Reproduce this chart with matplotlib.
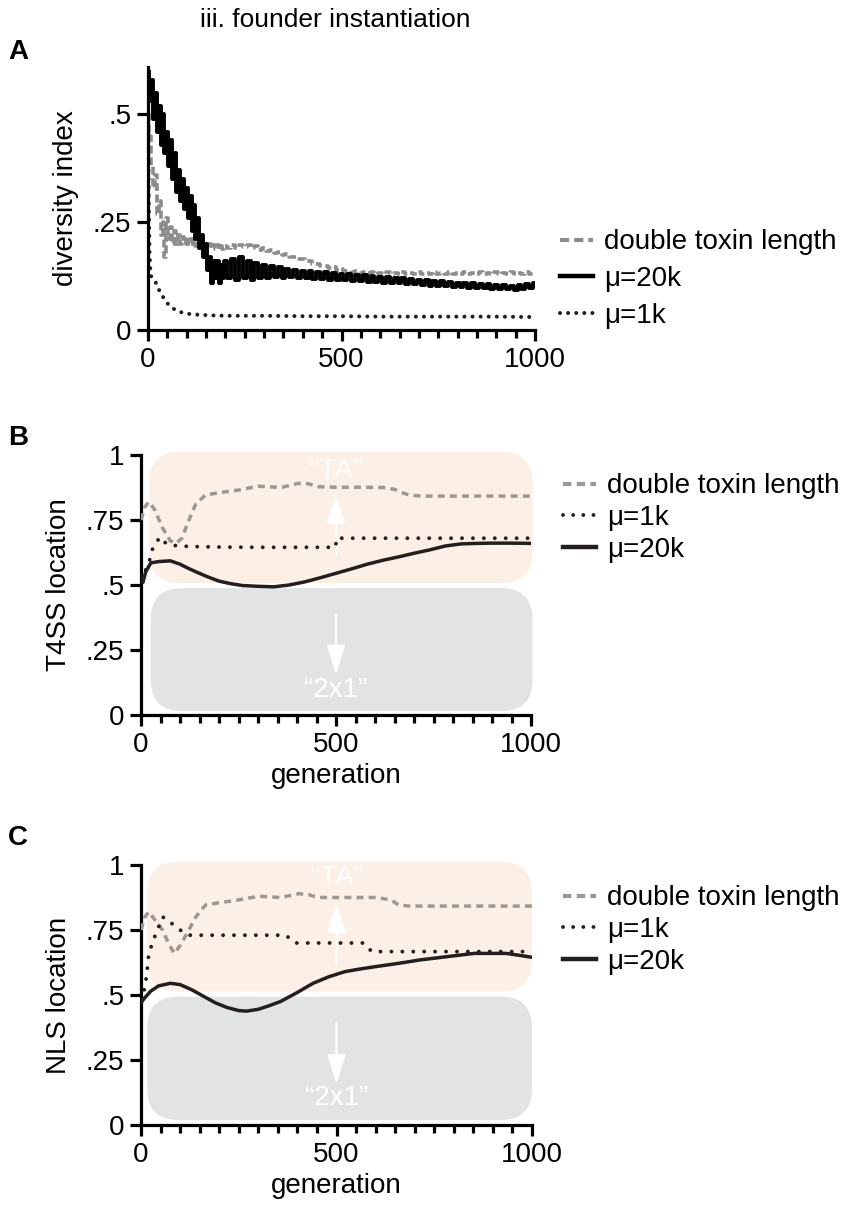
import matplotlib
matplotlib.use("Agg")
import matplotlib.pyplot as plt
import numpy as np
from matplotlib.lines import Line2D
from matplotlib.patches import FancyBboxPatch

plt.rcParams['font.family'] = ['Liberation Sans', 'DejaVu Sans']
plt.rcParams['font.size'] = 20

# ---- panel A: diversity index ----
a_gen_early = np.arange(0, 201, 5)
a_gen_late = np.arange(210, 1001, 10)
a_mu20k_early = [0.60, 0.53, 0.58, 0.49, 0.55, 0.46, 0.52, 0.43, 0.50, 0.41, 0.46,
                 0.38, 0.44, 0.35, 0.41, 0.32, 0.37, 0.30, 0.35, 0.28, 0.33, 0.26,
                 0.31, 0.23, 0.29, 0.21, 0.26, 0.19, 0.22, 0.17, 0.20, 0.14, 0.17,
                 0.11, 0.16, 0.12, 0.16, 0.11, 0.15, 0.12, 0.16]
a_mu20k_late = [0.12, 0.165, 0.115, 0.17, 0.12, 0.16, 0.115, 0.155, 0.12, 0.15,
                0.12, 0.148, 0.122, 0.145, 0.12, 0.142, 0.122, 0.14, 0.12, 0.138,
                0.12, 0.137, 0.118, 0.135, 0.118, 0.134, 0.117, 0.132, 0.116, 0.131,
                0.115, 0.13, 0.114, 0.128, 0.113, 0.127, 0.112, 0.126, 0.111, 0.124,
                0.11, 0.123, 0.109, 0.121, 0.108, 0.12, 0.107, 0.118, 0.106, 0.117,
                0.104, 0.115, 0.103, 0.114, 0.102, 0.113, 0.101, 0.111, 0.10, 0.11,
                0.099, 0.109, 0.098, 0.108, 0.097, 0.107, 0.097, 0.106, 0.096, 0.105,
                0.095, 0.104, 0.094, 0.103, 0.092, 0.104, 0.095, 0.106, 0.098, 0.108]
a_double_early = [0.50, 0.45, 0.38, 0.33, 0.36, 0.27, 0.30, 0.22, 0.25, 0.17, 0.26,
                  0.21, 0.24, 0.20, 0.23, 0.20, 0.22, 0.20, 0.215, 0.20, 0.215, 0.20,
                  0.21, 0.195, 0.21, 0.195, 0.205, 0.195, 0.205, 0.19, 0.20, 0.19,
                  0.20, 0.19, 0.198, 0.188, 0.196, 0.188, 0.195, 0.187, 0.195]
a_double_late = [0.19, 0.196, 0.19, 0.198, 0.192, 0.197, 0.19, 0.194, 0.186, 0.19,
                 0.183, 0.186, 0.179, 0.181, 0.174, 0.176, 0.169, 0.17, 0.164, 0.165,
                 0.159, 0.16, 0.153, 0.154, 0.148, 0.149, 0.144, 0.145, 0.14, 0.141,
                 0.137, 0.138, 0.135, 0.136, 0.133, 0.135, 0.132, 0.134, 0.131, 0.133,
                 0.130, 0.134, 0.131, 0.133, 0.130, 0.134, 0.131, 0.133, 0.130, 0.134,
                 0.131, 0.133, 0.130, 0.134, 0.131, 0.133, 0.130, 0.134, 0.131, 0.133,
                 0.130, 0.134, 0.131, 0.133, 0.130, 0.134, 0.131, 0.133, 0.130, 0.134,
                 0.131, 0.133, 0.130, 0.134, 0.131, 0.133, 0.130, 0.134, 0.131, 0.133]
a_mu1k_gen = [0, 2, 4, 6, 8, 10, 15, 20, 25, 30, 40, 50, 60, 70, 80, 90, 100, 120,
              140, 160, 200, 300, 400, 500, 600, 700, 800, 900, 1000]
a_mu1k = [0.50, 0.30, 0.18, 0.14, 0.125, 0.12, 0.115, 0.11, 0.10, 0.09, 0.075,
          0.062, 0.053, 0.047, 0.043, 0.04, 0.038, 0.036, 0.035, 0.034, 0.033,
          0.033, 0.032, 0.032, 0.031, 0.031, 0.031, 0.031, 0.030]

# ---- panel B: T4SS location ----
b_double_gen = [0, 10, 20, 35, 55, 75, 90, 105, 120, 140, 165, 200, 250, 300, 360,
                400, 420, 455, 500, 560, 620, 650, 670, 690, 720, 800, 900, 1000]
b_double = [0.75, 0.80, 0.82, 0.79, 0.72, 0.67, 0.66, 0.68, 0.74, 0.81, 0.846,
            0.855, 0.865, 0.88, 0.875, 0.89, 0.893, 0.878, 0.876, 0.876, 0.875,
            0.868, 0.855, 0.845, 0.842, 0.842, 0.842, 0.842]
b_mu1k_gen = [0, 10, 23, 31, 49, 66, 95, 130, 200, 300, 400, 499, 501, 600, 700,
              800, 900, 1000]
b_mu1k = [0.52, 0.55, 0.60, 0.647, 0.684, 0.657, 0.65, 0.648, 0.646, 0.645, 0.645,
          0.645, 0.68, 0.68, 0.68, 0.68, 0.68, 0.68]
b_mu20k_gen = [0, 5, 12, 25, 45, 75, 100, 120, 145, 170, 200, 230, 260, 300, 340,
               380, 420, 460, 500, 540, 580, 620, 660, 700, 740, 780, 820, 860,
               900, 950, 1000]
b_mu20k = [0.53, 0.51, 0.55, 0.585, 0.59, 0.593, 0.58, 0.565, 0.548, 0.532, 0.515,
           0.505, 0.498, 0.495, 0.493, 0.50, 0.512, 0.528, 0.545, 0.562, 0.580,
           0.595, 0.608, 0.622, 0.635, 0.65, 0.658, 0.66, 0.661, 0.661, 0.66]

# ---- panel C: NLS location ----
c_double_gen = [0, 10, 20, 35, 55, 70, 85, 100, 117, 140, 165, 200, 247, 302, 357,
                405, 430, 453, 500, 604, 640, 659, 687, 800, 1000]
c_double = [0.75, 0.80, 0.82, 0.79, 0.75, 0.70, 0.66, 0.69, 0.735, 0.80, 0.846,
            0.855, 0.865, 0.88, 0.875, 0.89, 0.885, 0.875, 0.875, 0.875, 0.865,
            0.846, 0.842, 0.842, 0.842]
c_mu1k_gen = [0, 7, 14, 20, 34, 55, 70, 82, 100, 124, 200, 300, 370, 395, 450,
              570, 590, 700, 1000]
c_mu1k = [0.48, 0.51, 0.57, 0.66, 0.72, 0.80, 0.79, 0.77, 0.75, 0.73, 0.73, 0.73,
          0.73, 0.70, 0.70, 0.70, 0.667, 0.667, 0.667]
c_mu20k_gen = [0, 10, 25, 45, 75, 100, 130, 160, 190, 220, 250, 270, 300, 330, 357,
               400, 440, 480, 522, 560, 604, 660, 714, 780, 852, 900, 934, 970, 1000]
c_mu20k = [0.47, 0.49, 0.515, 0.535, 0.545, 0.54, 0.52, 0.495, 0.47, 0.452, 0.44,
           0.438, 0.445, 0.46, 0.475, 0.51, 0.545, 0.57, 0.59, 0.60, 0.61, 0.622,
           0.635, 0.647, 0.66, 0.66, 0.66, 0.652, 0.645]

GRAY = '#8c8c8c'
GRAY_B = '#9b9793'
BLACK = '#231f20'
PEACH = '#fbefe6'
LIGHTGRAY = '#e2e3e3'
LW = 2.5

fig = plt.figure(figsize=(8.44, 12.18), dpi=100)


def style_axes(ax, ylim, yticks, yticklabels):
    for s in ['top', 'right']:
        ax.spines[s].set_visible(False)
    for s in ['left', 'bottom']:
        ax.spines[s].set_linewidth(2.3)
    ax.set_xlim(0, 1000)
    ax.set_ylim(*ylim)
    ax.set_xticks([0, 500, 1000])
    ax.set_xticks(np.arange(0, 1001, 50), minor=True)
    ax.set_yticks(yticks)
    ax.set_yticklabels(yticklabels)
    ax.tick_params(which='major', direction='out', length=8, width=2.3, labelsize=20, pad=4)
    ax.tick_params(which='minor', direction='out', length=6, width=2.3)
    ax.tick_params(axis='y', which='minor', left=False)


def dotted(ax, x, y, lw, gap, **kw):
    ln, = ax.plot(x, y, color=BLACK, lw=lw, linestyle=(0, (0.01, gap)),
                  dash_capstyle='round', **kw)
    return ln


# ---- A ----
ax_a = fig.add_axes([148 / 844, 1 - 330 / 1218, 387 / 844, 263 / 1218])
gen_a = np.concatenate([a_gen_early, a_gen_late])
ax_a.plot(gen_a, a_double_early + a_double_late, color=GRAY, lw=2.6,
          linestyle=(0, (2.2, 1.0)), drawstyle='steps-mid')
ax_a.plot(gen_a, a_mu20k_early + a_mu20k_late, color='black', lw=2.8,
          drawstyle='steps-mid')
dotted(ax_a, a_mu1k_gen, a_mu1k, 2.9, 2.0)
style_axes(ax_a, (0, 0.61), [0, 0.25, 0.5], ['0', '.25', '.5'])
ax_a.set_ylabel('diversity index', labelpad=10)
ax_a.legend([Line2D([], [], color=GRAY, lw=3, linestyle=(0, (2.2, 1.2))),
             Line2D([], [], color='black', lw=3.2),
             Line2D([], [], color=BLACK, lw=2.9, linestyle=(0, (0.01, 2.0)), dash_capstyle='round')],
            ['double toxin length', 'μ=20k', 'μ=1k'],
            loc='center left', bbox_to_anchor=(560 / 844, 1 - 279 / 1218),
            bbox_transform=fig.transFigure, frameon=False, handlelength=1.2,
            handletextpad=0.4, labelspacing=0.38, borderpad=0, borderaxespad=0,
            fontsize=20)
fig.text(335 / 844, 1 - 20 / 1218, 'iii. founder instantiation', ha='center', va='center',
         fontsize=19)
fig.text(8 / 844, 1 - 52 / 1218, 'A', fontsize=20, fontweight='bold', va='center')


def location_panel(ax, dgen, dval, g1, v1, g20, v20, ylab, boxes, arrows, labels):
    orange, grayb = boxes
    aspect = (1 / 260) / (1 / 0.39)
    for (x0, x1, y0, y1), col in [(orange, PEACH), (grayb, LIGHTGRAY)]:
        p = FancyBboxPatch((x0, y0), x1 - x0, y1 - y0,
                           boxstyle='round,pad=0,rounding_size=80',
                           mutation_aspect=aspect, facecolor=col, edgecolor='none',
                           clip_on=False, zorder=0)
        ax.add_patch(p)
    for (ys, ye) in arrows:
        ax.annotate('', xy=(500, ye), xytext=(500, ys),
                    arrowprops=dict(arrowstyle='-|>,head_length=0.9,head_width=0.28',
                                    color='white', lw=1.6), zorder=1)
    (ta_y, two_y) = labels
    ax.text(500, ta_y, '“TA”', color='white', ha='center', va='center', fontsize=20, zorder=1)
    ax.text(500, two_y, '“2x1”', color='white', ha='center', va='center', fontsize=20, zorder=1)
    ax.plot(dgen, dval, color=GRAY_B, lw=LW, linestyle=(0, (2.0, 1.5)), zorder=3)
    dotted(ax, g1, v1, 2.8, 2.8, zorder=3)
    ax.plot(g20, v20, color=BLACK, lw=LW, zorder=3)
    style_axes(ax, (0, 1), [0, 0.25, 0.5, 0.75, 1], ['0', '.25', '.5', '.75', '1'])
    ax.set_ylabel(ylab, labelpad=10)
    ax.set_xlabel('generation', labelpad=4)
    ax.patch.set_alpha(0)


ax_b = fig.add_axes([141 / 844, 1 - 715 / 1218, 390 / 844, 260 / 1218])
location_panel(ax_b, b_double_gen, b_double, b_mu1k_gen, b_mu1k, b_mu20k_gen, b_mu20k,
               'T4SS location',
               ((21, 1004, 0.507, 1.013), (25, 1004, 0.015, 0.488)),
               [(0.61, 0.86), (0.40, 0.145)], (0.94, 0.096))
fig.text(8 / 844, 1 - 438 / 1218, 'B', fontsize=20, fontweight='bold', va='center')

ax_c = fig.add_axes([141 / 844, 1 - 1125 / 1218, 391 / 844, 260 / 1218])
location_panel(ax_c, c_double_gen, c_double, c_mu1k_gen, c_mu1k, c_mu20k_gen, c_mu20k,
               'NLS location',
               ((16, 1000, 0.513, 1.013), (16, 1000, 0.019, 0.494)),
               [(0.615, 0.865), (0.404, 0.147)], (0.95, 0.104))
fig.text(8 / 844, 1 - 838 / 1218, 'C', fontsize=20, fontweight='bold', va='center')

legend_handles = [Line2D([], [], color=GRAY_B, lw=3, linestyle=(0, (2.0, 1.3))),
                  Line2D([], [], color=BLACK, lw=2.8, linestyle=(0, (0.01, 2.6)), dash_capstyle='round'),
                  Line2D([], [], color=BLACK, lw=3.2)]
legend_labels = ['double toxin length', 'μ=1k', 'μ=20k']
for ax, yc in [(ax_b, 518), (ax_c, 930)]:
    ax.legend(legend_handles, legend_labels, loc='center left',
              bbox_to_anchor=(563 / 844, 1 - yc / 1218), bbox_transform=fig.transFigure,
              frameon=False, handlelength=1.2, handletextpad=0.4, labelspacing=0.2,
              borderpad=0, borderaxespad=0, fontsize=20)

fig.savefig('out.png', dpi=100)
